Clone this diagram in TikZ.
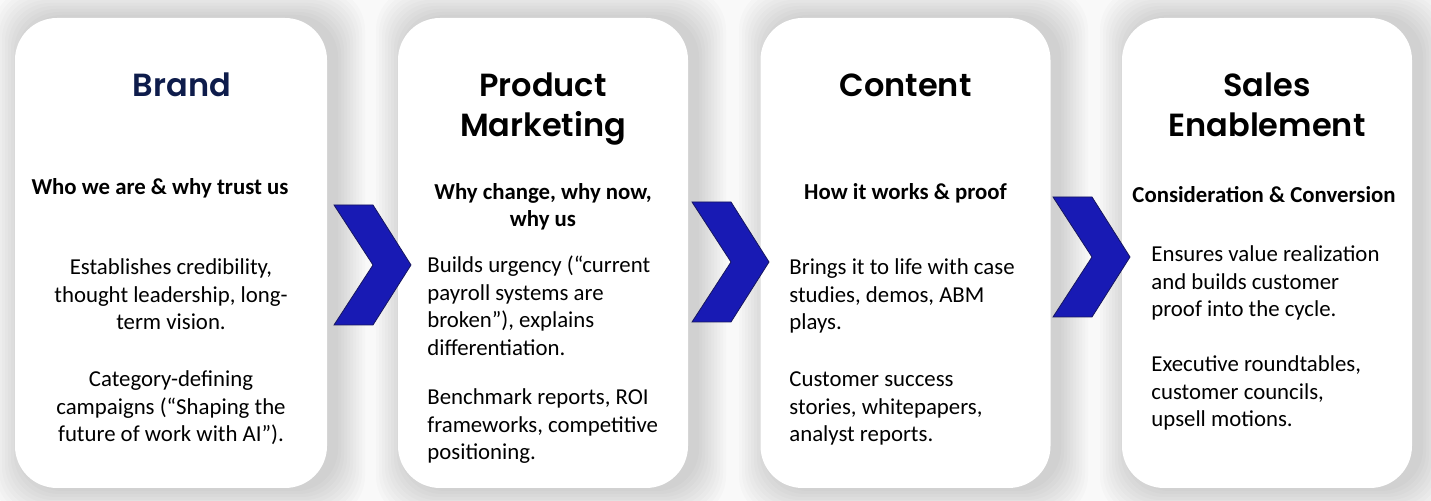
\documentclass[tikz,border=0pt]{standalone}
\usepackage{fontspec}
\setmainfont{Carlito}
\newfontfamily\titlefont{Poppins SemiBold}
\usepackage{tikz}
\usetikzlibrary{positioning}

\definecolor{bggray}{RGB}{249,249,249}
\definecolor{navy}{RGB}{14,28,75}
\definecolor{chevblue}{RGB}{24,26,180}
\definecolor{chevline}{RGB}{22,22,95}

\begin{document}
\begin{tikzpicture}[
    x=0.5pt, y=-0.5pt,
    card/.style={fill=white, rounded corners=21pt, inner sep=0pt, minimum height=235pt},
    title/.style={font=\titlefont\fontsize{16}{20}\selectfont, align=center, anchor=base, inner sep=0pt},
    subtitle/.style={font=\bfseries\fontsize{11.4}{13.5}\selectfont, align=center, anchor=base, inner sep=0pt},
    body/.style={font=\fontsize{11.4}{13.75}\selectfont, align=left, anchor=base west, inner sep=0pt},
    bodyc/.style={body, align=center, anchor=base},
    chevron/.pic={\draw[fill=chevblue, draw=chevline, line width=0.4pt]
        (0,0) -- (39,0) -- (77,60) -- (39,120) -- (0,120) -- (39,60) -- cycle;},
]

% Background and soft shadows
\fill[bggray] (0,0) rectangle (1431,501);
\useasboundingbox (0,0) rectangle (1431,501);
\foreach \l/\r in {15/327, 398/688, 761/1050, 1122/1412}
  \foreach \i in {1,...,10}
    \fill[black, opacity=0.017, rounded corners=21pt]
      (\l-\i*3+8, 18-\i*3) rectangle (\r+\i*3+8, 488+\i*3);

% Cards
\node[card, minimum width=156pt] (brand) at (171,253) {};
\node[card, minimum width=145pt] (pmm) at (543,253) {};
\node[card, minimum width=145pt] (content) at (905.5,253) {};
\node[card, minimum width=145pt] (sales) at (1267,253) {};

% Chevrons
\pic at (334,205) {chevron};
\pic at (692,202) {chevron};
\pic at (1053,197) {chevron};

% Brand (base = last line)
\node[title, text=navy] (brandtitle) at (182,97) {Brand};
\node[subtitle] (brandsub) at (160,195) {Who we are \& why trust us};
\node[bodyc] (brandbody) at (171,330) {Establishes credibility,\\thought leadership, long-\\term vision.};
\node[bodyc] (brandex) at (171,442) {Category-defining\\campaigns (“Shaping the\\future of work with AI”).};

% Product Marketing
\node[title] (pmmtitle) at (543,137) {Product\\Marketing};
\node[subtitle] (pmmsub) at (543,227) {Why change, why now,\\why us};
\node[body] (pmmbody) at (427,355.5) {Builds urgency (“current\\payroll systems are\\broken”), explains\\differentiation.};
\node[body] (pmmex) at (427,460) {Benchmark reports, ROI\\frameworks, competitive\\positioning.};

% Content
\node[title] (contenttitle) at (905.5,97) {Content};
\node[subtitle] (contentsub) at (905.5,200) {How it works \& proof};
\node[body] (contentbody) at (789,330) {Brings it to life with case\\studies, demos, ABM\\plays.};
\node[body] (contentex) at (789,442) {Customer success\\stories, whitepapers,\\analyst reports.};

% Sales Enablement
\node[title] (salestitle) at (1267,137) {Sales\\Enablement};
\node[subtitle] (salessub) at (1264,203) {Consideration \& Conversion};
\node[body] (salesbody) at (1151,317) {Ensures value realization\\and builds customer\\proof into the cycle.};
\node[body] (salesex) at (1151,427) {Executive roundtables,\\customer councils,\\upsell motions.};

\end{tikzpicture}
\end{document}
